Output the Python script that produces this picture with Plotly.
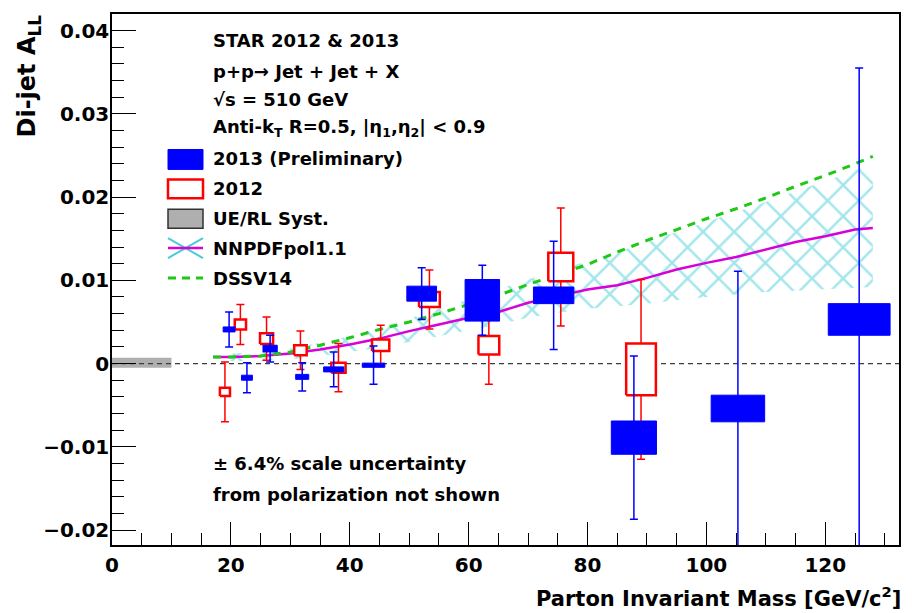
import plotly.graph_objects as go

# ---------------- data ----------------
# 2013 (Preliminary) - blue filled boxes
blue_x = [19.7, 22.7, 26.6, 32.0, 37.3, 44.0, 52.1, 62.3, 74.3, 87.8, 105.3, 125.7]
blue_y = [0.0041, -0.0017, 0.0018, -0.0016, -0.0007, -0.0002, 0.0084, 0.0076, 0.0082, -0.0089, -0.0054, 0.0053]
blue_stat = [0.0021, 0.0018, 0.0016, 0.0017, 0.0021, 0.0023, 0.0031, 0.0042, 0.0065, 0.0098, 0.0165, 0.0302]
blue_sys = [0.0003, 0.0003, 0.0004, 0.0003, 0.0003, 0.00025, 0.0009, 0.0025, 0.0010, 0.0020, 0.0016, 0.0019]
blue_xerr = [1.0, 0.92, 1.2, 1.1, 1.7, 1.9, 2.5, 2.9, 3.4, 3.8, 4.5, 5.2]

# 2012 - red open boxes
red_x = [19.0, 21.6, 26.0, 31.7, 38.1, 45.2, 53.4, 63.4, 75.5, 89.0]
red_y = [-0.0034, 0.0047, 0.0030, 0.0016, -0.0005, 0.0022, 0.0077, 0.0022, 0.0116, -0.0007]
red_stat = [0.0036, 0.0024, 0.0026, 0.0023, 0.0029, 0.0024, 0.00355, 0.0047, 0.0071, 0.0108]
red_sys = [0.0005, 0.0006, 0.00065, 0.0006, 0.0006, 0.0007, 0.0009, 0.0011, 0.0017, 0.0031]
red_xerr = [0.85, 0.95, 1.1, 1.05, 1.2, 1.45, 1.75, 1.75, 2.1, 2.5]

# UE/RL systematic band
ue_x = [0.0, 10.0]
ue_y = [-0.0005, 0.0007]

# theory curves
th_x = [17, 20, 25, 30, 35, 40, 45, 50, 55, 60, 65, 70, 75, 80, 85, 90, 95, 100, 105, 110, 115, 120, 125, 128]
nnpdf = [0.0008, 0.0008, 0.0009, 0.0012, 0.0017, 0.0023, 0.0030, 0.0039, 0.0047, 0.0055, 0.0062, 0.0073,
         0.0081, 0.0089, 0.0094, 0.0103, 0.0113, 0.0121, 0.0128, 0.0137, 0.0146, 0.0153, 0.0161, 0.0163]
nnpdf_hi = [0.0012, 0.0012, 0.0014, 0.0018, 0.0025, 0.0033, 0.0043, 0.0054, 0.0066, 0.0077, 0.0089, 0.0101,
            0.0112, 0.0123, 0.0134, 0.0146, 0.0158, 0.0170, 0.0182, 0.0194, 0.0207, 0.0219, 0.0232, 0.0238]
nnpdf_lo = [0.0003, 0.0003, 0.0003, 0.0005, 0.0009, 0.0014, 0.0019, 0.0026, 0.0033, 0.0040, 0.0047, 0.0055,
            0.0061, 0.0066, 0.0069, 0.0072, 0.0076, 0.0080, 0.0083, 0.0086, 0.0088, 0.0089, 0.0091, 0.0092]
dssv = [0.0008, 0.0008, 0.0009, 0.0014, 0.0022, 0.0031, 0.0041, 0.0050, 0.0060, 0.0071, 0.0082, 0.0095,
        0.0107, 0.0119, 0.0134, 0.0148, 0.0161, 0.0174, 0.0186, 0.0199, 0.0213, 0.0226, 0.0240, 0.0249]

x_range = [0, 132.4]
y_range = [-0.0218, 0.0420]
x_ticks = [0, 20, 40, 60, 80, 100, 120]
y_ticks = [-0.02, -0.01, 0, 0.01, 0.02, 0.03, 0.04]
y_ticktext = ["\u22120.02", "\u22120.01", "0", "0.01", "0.02", "0.03", "0.04"]

# ---------------- styling ----------------
BLUE = "rgb(0,0,255)"
RED = "rgb(255,0,0)"
CYAN = "rgb(70,205,215)"
MAG = "rgb(215,0,215)"
GREEN = "rgb(30,200,20)"
GRAY = "rgb(175,175,175)"
FONT = "DejaVu Sans"

# page body has an 8px margin: figure coordinates = screen coordinates - 8
OFF = 8
W, H = 912 - OFF, 613 - OFF
L, R, T, B = 112 - OFF, 899 - OFF, 12 - OFF, 545 - OFF


def X(px):
    return (px - OFF - L) / (R - L)


def Y(py):
    return (B - (py - OFF)) / (B - T)


def box_poly(xs, ys, hw, hh):
    px, py = [], []
    for x, y, w, h in zip(xs, ys, hw, hh):
        px += [x - w, x + w, x + w, x - w, x - w, None]
        py += [y - h, y - h, y + h, y + h, y - h, None]
    return px, py


fig = go.Figure()

# UE/RL syst box
fig.add_trace(go.Scatter(x=[ue_x[0], ue_x[1], ue_x[1], ue_x[0], ue_x[0]],
                         y=[ue_y[0], ue_y[0], ue_y[1], ue_y[1], ue_y[0]],
                         fill="toself", fillcolor=GRAY, mode="lines", line=dict(width=0),
                         hoverinfo="skip", showlegend=False))
# zero line
fig.add_trace(go.Scatter(x=x_range, y=[0, 0], mode="lines",
                         line=dict(color="rgb(60,60,60)", width=1.2, dash="5px,4px"),
                         hoverinfo="skip", showlegend=False))
# NNPDF band (hatched)
fig.add_trace(go.Scatter(x=th_x + th_x[::-1], y=nnpdf_hi + nnpdf_lo[::-1],
                         fill="toself", fillcolor="rgba(0,0,0,0)", mode="lines", line=dict(width=0),
                         fillpattern=dict(shape="x", fgcolor=CYAN, bgcolor="rgba(0,0,0,0)",
                                          size=22, solidity=0.22),
                         hoverinfo="skip", showlegend=False))
# NNPDF central
fig.add_trace(go.Scatter(x=th_x, y=nnpdf, mode="lines", line=dict(color=MAG, width=2.5),
                         showlegend=False))
# DSSV14
fig.add_trace(go.Scatter(x=th_x, y=dssv, mode="lines",
                         line=dict(color=GREEN, width=3, dash="8px,7px"), showlegend=False))

# 2012 stat error bars
fig.add_trace(go.Scatter(x=red_x, y=red_y, mode="markers", marker=dict(size=1, color=RED),
                         error_y=dict(type="data", array=red_stat, color=RED, thickness=1.5, width=4),
                         showlegend=False))
# 2012 syst boxes
rx, ry = box_poly(red_x, red_y, red_xerr, red_sys)
fig.add_trace(go.Scatter(x=rx, y=ry, fill="toself", fillcolor="white", mode="lines",
                         line=dict(color=RED, width=2.5), showlegend=False))

# 2013 stat error bars
fig.add_trace(go.Scatter(x=blue_x, y=blue_y, mode="markers", marker=dict(size=1, color=BLUE),
                         error_y=dict(type="data", array=blue_stat, color=BLUE, thickness=1.5, width=4),
                         showlegend=False))
# 2013 syst boxes
bx, by = box_poly(blue_x, blue_y, blue_xerr, blue_sys)
fig.add_trace(go.Scatter(x=bx, y=by, fill="toself", fillcolor=BLUE, mode="lines",
                         line=dict(color=BLUE, width=1), showlegend=False))

# ---------------- legend (drawn) ----------------
shapes = []
ann = []
sw0, sw1 = X(168), X(203)
shapes.append(dict(type="rect", xref="paper", yref="paper", x0=sw0, x1=sw1, y0=Y(168), y1=Y(148),
                   fillcolor=BLUE, line=dict(color=BLUE, width=1)))
shapes.append(dict(type="rect", xref="paper", yref="paper", x0=sw0, x1=sw1, y0=Y(197), y1=Y(178),
                   fillcolor="white", line=dict(color=RED, width=2.5)))
shapes.append(dict(type="rect", xref="paper", yref="paper", x0=sw0, x1=sw1, y0=Y(227), y1=Y(208),
                   fillcolor=GRAY, line=dict(color="rgb(50,50,50)", width=1.5)))
shapes.append(dict(type="line", xref="paper", yref="paper", x0=sw0, x1=sw1, y0=Y(237), y1=Y(257),
                   line=dict(color=CYAN, width=2)))
shapes.append(dict(type="line", xref="paper", yref="paper", x0=sw0, x1=sw1, y0=Y(257), y1=Y(237),
                   line=dict(color=CYAN, width=2)))
shapes.append(dict(type="line", xref="paper", yref="paper", x0=sw0, x1=sw1, y0=Y(247), y1=Y(247),
                   line=dict(color=MAG, width=2.5)))
shapes.append(dict(type="line", xref="paper", yref="paper", x0=sw0, x1=sw1, y0=Y(277), y1=Y(277),
                   line=dict(color=GREEN, width=3, dash="8px,6px")))

lines = [
    ("STAR 2012 &amp; 2013", 39),
    ("p+p\u2192 Jet + Jet + X", 70),
    ("\u221as = 510 GeV", 98),
    ("Anti-k<sub>T</sub> R=0.5, |\u03b7<sub>1</sub>,\u03b7<sub>2</sub>| &lt; 0.9", 126),
    ("2013 (Preliminary)", 157),
    ("2012", 187),
    ("UE/RL Syst.", 217),
    ("NNPDFpol1.1", 247),
    ("DSSV14", 277),
    ("\u00b1 6.4% scale uncertainty", 463),
    ("from polarization not shown", 494),
]
for txt, yc in lines:
    ann.append(dict(text=txt, xref="paper", yref="paper", x=X(211), y=Y(yc), xanchor="left",
                    yanchor="middle", showarrow=False,
                    font=dict(family=FONT, size=18, color="black", weight="bold")))

# axis titles
ann.append(dict(text="Parton Invariant Mass [GeV/c<sup>2</sup>]", xref="paper", yref="paper",
                x=X(903), y=Y(597), xanchor="right", yanchor="middle", showarrow=False,
                font=dict(family=FONT, size=21, color="black", weight="bold")))
ann.append(dict(text="Di-jet A<sub>LL</sub>", xref="paper", yref="paper", textangle=-90,
                x=X(29), y=Y(11), xanchor="center", yanchor="top", showarrow=False,
                font=dict(family=FONT, size=24, color="black", weight="bold")))

tickfont = dict(family=FONT, size=20, color="black", weight="bold")
fig.update_layout(
    width=W, height=H,
    margin=dict(l=L, r=W - R, t=T, b=H - B, pad=0),
    paper_bgcolor="white", plot_bgcolor="white",
    showlegend=False,
    shapes=shapes, annotations=ann,
    xaxis=dict(range=x_range, tickvals=x_ticks, ticks="inside", ticklen=23, tickwidth=1.2,
               tickcolor="black", showgrid=False, zeroline=False, showline=True, linecolor="black",
               linewidth=1.5, mirror=True, tickfont=tickfont, ticklabelstandoff=1,
               minor=dict(dtick=5, tick0=0, ticks="inside", ticklen=12, tickwidth=1.2,
                          tickcolor="black", showgrid=False)),
    yaxis=dict(range=y_range, tickvals=y_ticks, ticktext=y_ticktext,
               ticks="inside", ticklen=24, tickwidth=1.2,
               tickcolor="black", showgrid=False, zeroline=False, showline=True, linecolor="black",
               linewidth=1.5, mirror=True, tickfont=tickfont, ticklabelstandoff=-3,
               minor=dict(dtick=0.002, tick0=0, ticks="inside", ticklen=12, tickwidth=1.2,
                          tickcolor="black", showgrid=False)),
)

fig.write_html("out.html")
